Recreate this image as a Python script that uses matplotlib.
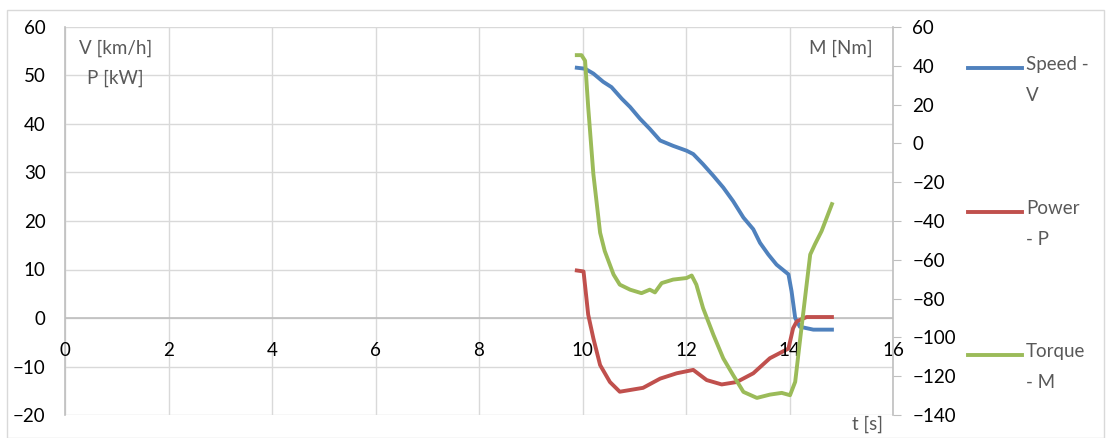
import matplotlib.pyplot as plt
from matplotlib.patches import Rectangle

plt.rcParams['font.family'] = ['Lato', 'DejaVu Sans']

# datos
t_v = [9.89, 10.05, 10.21, 10.40, 10.56, 10.76, 10.92, 11.11, 11.30, 11.50, 11.75, 12.01, 12.14,
       12.33, 12.53, 12.72, 12.91, 13.11, 13.30, 13.43, 13.59, 13.75, 13.98, 14.04, 14.11, 14.20,
       14.46, 14.82]
speed = [51.6, 51.4, 50.4, 48.7, 47.6, 45.2, 43.5, 41.1, 39.0, 36.6, 35.5, 34.5, 33.8,
         31.7, 29.3, 26.9, 24.1, 20.7, 18.3, 15.5, 13.1, 11.0, 9.0, 5.5, 0.0, -1.8,
         -2.4, -2.4]

t_p = [9.89, 10.02, 10.11, 10.21, 10.34, 10.53, 10.72, 11.17, 11.50, 11.82, 12.14, 12.40, 12.69,
       12.98, 13.30, 13.62, 13.98, 14.07, 14.14, 14.33, 14.82]
power = [9.8, 9.6, 0.7, -4.2, -9.7, -13.2, -15.2, -14.4, -12.5, -11.4, -10.7, -12.8, -13.7,
         -13.2, -11.4, -8.3, -6.3, -2.1, -0.7, 0.2, 0.2]

t_m = [9.89, 9.98, 10.05, 10.11, 10.21, 10.34, 10.43, 10.60, 10.72, 10.92, 11.14, 11.30, 11.40,
       11.53, 11.75, 12.01, 12.11, 12.20, 12.33, 12.53, 12.72, 12.91, 13.11, 13.37, 13.62, 13.85,
       14.01, 14.11, 14.20, 14.30, 14.40, 14.49, 14.62, 14.82]
torque = [45.5, 45.5, 42.6, 18.7, -15.8, -46.0, -55.5, -67.6, -72.8, -75.4, -77.2, -75.4, -76.8,
          -72.0, -70.2, -69.4, -68.1, -72.8, -84.9, -98.7, -110.8, -119.4, -128.1, -131.2, -129.5, -128.6,
          -129.8, -122.9, -102.2, -79.7, -57.3, -52.1, -45.2, -31.3]

azul = '#4F81BD'
rojo = '#C0504D'
verde = '#9BBB59'
gris = '#595959'
fs = 13.5

fig = plt.figure(figsize=(11.06, 4.38), dpi=100)
fig.patches.append(Rectangle((7 / 1106, 0), 1097 / 1106, 428 / 438, transform=fig.transFigure,
                             fill=False, edgecolor='#D9D9D9', linewidth=1))

ax = fig.add_axes([65 / 1106, 1 - 415 / 438, 828 / 1106, 388 / 438])
ax2 = ax.twinx()

ax.plot(t_v, speed, color=azul, lw=2.8, label='Speed -\nV')
ax.plot(t_p, power, color=rojo, lw=2.8, label='Power\n- P')
ax2.plot(t_m, torque, color=verde, lw=2.8, label='Torque\n- M')

ax.set_xlim(0, 16)
ax.set_ylim(-20, 60)
ax2.set_ylim(-140, 60)
ax.set_xticks(range(0, 17, 2))
ax.set_yticks(range(-20, 61, 10))
ax2.set_yticks(range(-140, 61, 20))

ax.grid(True, color='#D9D9D9', lw=1)
ax.set_axisbelow(True)
for s in ['top', 'right', 'bottom']:
    ax.spines[s].set_visible(False)
for s in ['top', 'left', 'bottom']:
    ax2.spines[s].set_visible(False)
ax.spines['left'].set_color('#BFBFBF')
ax.spines['left'].set_linewidth(1.2)
ax2.spines['right'].set_color('#BFBFBF')
ax2.spines['right'].set_linewidth(1.2)
ax.axhline(0, color='#BFBFBF', lw=1.2, zorder=1)

ax.tick_params(axis='y', length=0, labelsize=fs, pad=14, colors='black')
ax.tick_params(axis='x', length=0, labelsize=fs, pad=0)
ax2.tick_params(axis='y', length=6, color='#BFBFBF', labelsize=fs, pad=8)

# etiquetas del eje x pegadas a y=0
ax.xaxis.set_ticks_position('none')
for x in range(0, 17, 2):
    ax.text(x, -6.8, str(x), ha='center', va='center', fontsize=fs)
ax.set_xticklabels([])

ax.text(0.97, 55.7, 'V [km/h]', ha='center', va='center', fontsize=fs, color=gris)
ax.text(0.97, 49.5, 'P [kW]', ha='center', va='center', fontsize=fs, color=gris)
ax.text(15.0, 55.7, 'M [Nm]', ha='center', va='center', fontsize=fs, color=gris)
ax.text(15.5, -21.9, 't [s]', ha='center', va='center', fontsize=fs, color=gris)

# leyenda a mano a la derecha
ley = [(azul, 'Speed -\nV', 68), (rojo, 'Power\n- P', 212), (verde, 'Torque\n- M', 355)]
for c, txt, y in ley:
    yf = 1 - y / 438
    fig.add_artist(plt.Line2D([968 / 1106, 1022 / 1106], [yf, yf], color=c, lw=2.8,
                              transform=fig.transFigure))
    fig.text(1026 / 1106, yf + 12 / 438, txt, ha='left', va='top', fontsize=fs, color=gris,
             linespacing=2.0)

fig.savefig('out.png', dpi=100)
